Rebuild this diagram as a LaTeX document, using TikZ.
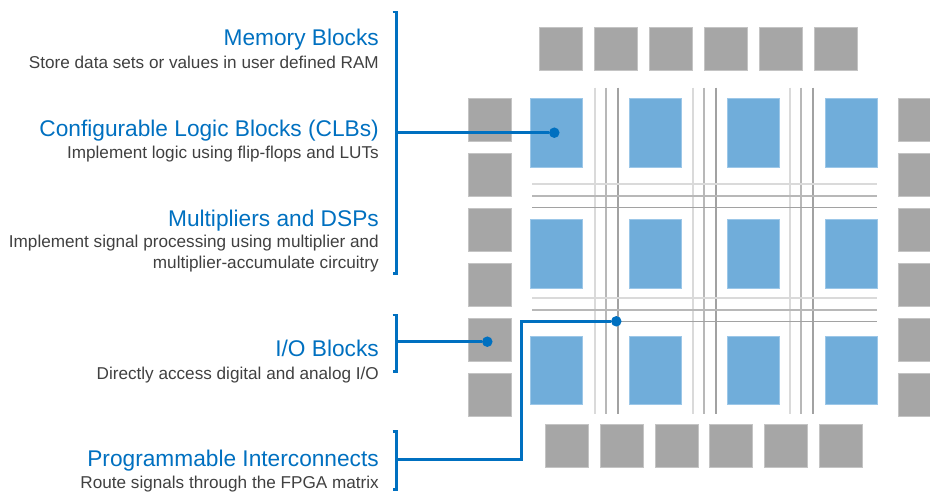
\documentclass[tikz,border=0pt]{standalone}
\usepackage{fontspec}
\setmainfont{Liberation Sans}
\usetikzlibrary{positioning}

\definecolor{fpgablue}{HTML}{0070C0}
\definecolor{clbblue}{HTML}{70ADDA}
\definecolor{clbedge}{HTML}{9CC7E8}
\definecolor{padgray}{HTML}{A6A6A6}
\definecolor{padedge}{HTML}{C4C4C4}
\definecolor{wirelight}{HTML}{DADADA}
\definecolor{wiremid}{HTML}{B8B8B8}
\definecolor{wiredark}{HTML}{A2A2A2}
\definecolor{textgray}{HTML}{404040}

\tikzset{
  iopad/.style={rectangle,anchor=north west,inner sep=0pt,fill=padgray,draw=padedge,
    line width=0.8pt,minimum width=43pt,minimum height=43pt},
  clb/.style={rectangle,anchor=north west,inner sep=0pt,fill=clbblue,draw=clbedge,
    line width=0.8pt,minimum width=52pt,minimum height=68.5pt},
  tap/.style={circle,fill=fpgablue,inner sep=0pt,minimum size=10.5pt},
  heading/.style={anchor=base east,inner sep=0pt,text=fpgablue,
    font=\fontsize{22.7}{27}\selectfont},
  caption/.style={anchor=base east,inner sep=0pt,text=textgray,
    font=\fontsize{17.15}{21}\selectfont},
  bus/.style={draw=fpgablue,line width=2.7pt},
  wire/.style={line width=1.8pt}
}

\begin{document}
\begin{tikzpicture}[x=1pt,y=-1pt]
    \useasboundingbox (0,0) rectangle (930,493);
    \clip (0,0) rectangle (930,493);
    % routing channels
    \foreach \x in {595.3,692.7,790} {
      \draw[wire,wirelight] (\x,87.7) -- (\x,414.3);
      \draw[wire,wiremid] (\x+11,87.7) -- (\x+11,414.3);
      \draw[wire,wiredark] (\x+23,87.7) -- (\x+23,414.3);
    }
    \foreach \y in {184.3,298.3} {
      \draw[wire,wirelight] (532,\y) -- (877,\y);
      \draw[wire,wiremid] (532,\y+11.4) -- (877,\y+11.4);
      \draw[wire,wiredark] (532,\y+23.2) -- (877,\y+23.2);
    }
    % I/O pads
    \foreach \i in {0,...,5} {
      \node[iopad] (top\i) at ({539.3+55*\i},26.7) {};
      \node[iopad] (bot\i) at ({545+54.8*\i},424) {};
      \node[iopad] (left\i) at (468.3,{98+54.95*\i}) {};
      \node[iopad] (right\i) at (898.3,{98+54.95*\i}) {};
    }
    % logic blocks
    \foreach \c/\x in {1/530.3,2/629,3/727,4/825}
      \foreach \r/\y in {1/98,2/219.3,3/335.7}
        \node[clb] (clb\r\c) at (\x,\y) {};
    % labels
    \node[heading] (memhead) at (379,45.7) {Memory Blocks};
    \node[caption] (memtext) at (379,68.3) {Store data sets or values in user defined RAM};
    \node[heading] (clbhead) at (379,136.7) {Configurable Logic Blocks (CLBs)};
    \node[caption] (clbtext) at (379,158.3) {Implement logic using flip-flops and LUTs};
    \node[heading] (dsphead) at (379,226) {Multipliers and DSPs};
    \node[caption] (dsptext) at (379,247.3) {Implement signal processing using multiplier and};
    \node[caption] (dsptextb) at (379,268.3) {multiplier-accumulate circuitry};
    \node[heading] (iohead) at (379,356.7) {I/O Blocks};
    \node[caption] (iotext) at (379,379) {Directly access digital and analog I/O};
    \node[heading] (pihead) at (379,466.7) {Programmable Interconnects};
    \node[caption] (pitext) at (379,488) {Route signals through the FPGA matrix};
    % brackets
    \draw[bus] (392.5,12) -- (396.7,12) -- (396.7,273.3) -- (392.5,273.3);
    \draw[bus] (392.5,315) -- (396.7,315) -- (396.7,371.7) -- (392.5,371.7);
    \draw[bus] (392.5,431.7) -- (396.7,431.7) -- (396.7,489.5) -- (392.5,489.5);
    % pointers
    \coordinate (clbtap) at (396.7,132.7);
    \coordinate (iotap) at (396.7,341.7);
    \coordinate (pitap) at (396.7,459.3);
    \coordinate (pibend) at (521.7,459.3);
    \node[tap] (clbdot) at (554.3,132.7) {};
    \node[tap] (iodot) at (487.3,341.7) {};
    \node[tap] (pidot) at (616.3,321.3) {};
    \draw[bus] (clbtap) -- (clbdot);
    \draw[bus] (iotap) -- (iodot);
    \draw[bus] (pitap) -- (pibend) |- (pidot);
\end{tikzpicture}
\end{document}
